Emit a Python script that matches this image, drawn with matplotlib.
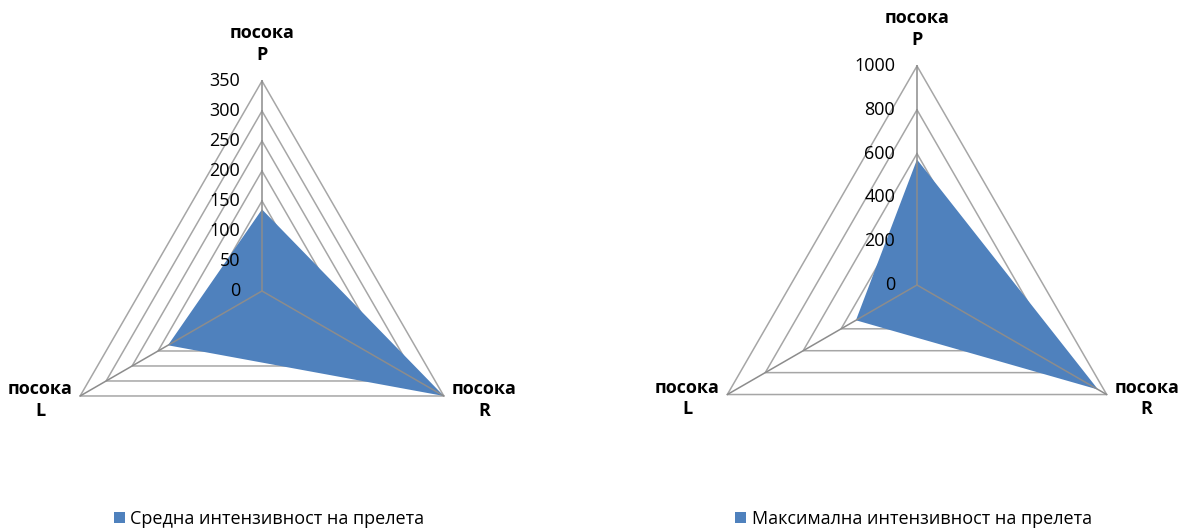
import numpy as np
import matplotlib
matplotlib.use("Agg")
import matplotlib.pyplot as plt
from matplotlib.patches import Patch

plt.rcParams['font.family'] = ['Open Sans', 'DejaVu Sans']

# Directions, clockwise from the top
directions = ["посока\nP", "посока\nR", "посока\nL"]

# Average and maximum passage intensity per direction
mean_values = [136, 350, 181]
max_values = [573, 955, 322]

mean_ticks = [0, 50, 100, 150, 200, 250, 300, 350]
max_ticks = [0, 200, 400, 600, 800, 1000]

mean_label = "Средна интензивност на прелета"
max_label = "Максимална интензивност на прелета"

FILL = "#4F81BD"
RING = "#A6A6A6"
SPOKE = "#8C8C8C"
TEXT = "#000000"


def radar(fig, rect, values, ticks, label, legend_x):
    ax = fig.add_axes(rect, projection="polar")
    ax.set_theta_offset(np.pi / 2)
    ax.set_theta_direction(-1)
    n = len(directions)
    angles = np.linspace(0, 2 * np.pi, n, endpoint=False)
    closed = np.append(angles, angles[0])
    rmax = ticks[-1]
    ax.set_ylim(0, rmax)
    ax.grid(False)
    ax.spines["polar"].set_visible(False)
    ax.set_xticks([])
    ax.set_yticks([])
    ax.patch.set_alpha(0)

    # polygon rings
    for t in ticks[1:]:
        ax.plot(closed, [t] * (n + 1), color=RING, lw=1.1, zorder=1,
                clip_on=False)

    # data area
    vals = list(values) + [values[0]]
    poly = ax.fill(closed, vals, color=FILL, zorder=2, clip_on=False,
                   label=label, lw=0)

    # spokes
    for a in angles:
        ax.plot([a, a], [0, rmax], color=SPOKE, lw=1.1, zorder=3,
                clip_on=False)

    # value labels along the vertical spoke
    for t in ticks:
        ax.annotate(str(t), xy=(0, t), xytext=(-22, 0),
                    textcoords="offset pixels", ha="right", va="center",
                    fontsize=13, color=TEXT, zorder=4, annotation_clip=False)

    # direction labels
    offsets = [(0, 37), (40, -4), (-40, -4)]
    for a, name, off in zip(angles, directions, offsets):
        ax.annotate(name, xy=(a, rmax), xytext=off,
                    textcoords="offset pixels", ha="center", va="center",
                    fontsize=13, fontweight="bold", color=TEXT,
                    linespacing=1.25, annotation_clip=False)

    fig.legend(handles=[Patch(facecolor=FILL, edgecolor="none", label=label)],
               loc="center", bbox_to_anchor=(legend_x, 0.0226),
               frameon=False, fontsize=13, handlelength=0.6,
               handleheight=0.6, handletextpad=0.3, borderpad=0,
               borderaxespad=0)
    return ax


fig = plt.figure(figsize=(11.83, 5.31), dpi=100)

radar(fig, [0.04396, 0.0565, 0.3550, 0.7910], mean_values, mean_ticks,
      mean_label, 0.2274)
radar(fig, [0.5900, 0.0508, 0.3703, 0.8249], max_values, max_ticks,
      max_label, 0.7722)

fig.savefig("out.png", dpi=100)
